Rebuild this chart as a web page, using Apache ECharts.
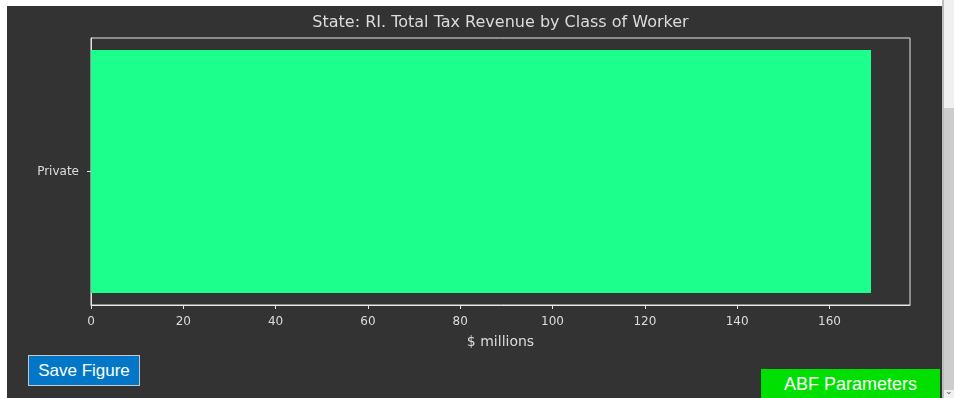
<!DOCTYPE html>
<html>
<head>
<meta charset="utf-8">
<script src="https://cdn.jsdelivr.net/npm/echarts@6/dist/echarts.min.js"></script>
<style>
  html, body { margin: 0; padding: 0; background: #ffffff; width: 954px; height: 398px; overflow: hidden; }
  #panel { position: absolute; left: 7px; top: 6px; width: 935px; height: 392px; background: #333333; }
  #chart { position: absolute; left: 0; top: 0; width: 935px; height: 392px; }
  .btn { position: absolute; font-family: "Liberation Sans", Arial, sans-serif; color: #ffffff; text-align: center; box-sizing: border-box; }
  #save { left: 21px; top: 349px; width: 112px; height: 31px; background: #0277c8; border: 1px solid #c8c8c8; font-size: 17px; line-height: 29px; }
  #abf { left: 754px; top: 363px; width: 179px; height: 30px; background: #00e000; font-size: 18px; line-height: 30px; }
  #sbline { position: absolute; left: 942px; top: 0; width: 2px; height: 398px; background: #bdbdbd; }
  #sbtrack { position: absolute; left: 944px; top: 0; width: 10px; height: 398px; background: #f0f0f0; }
  #sbthumb { position: absolute; left: 944px; top: 108px; width: 10px; height: 282px; background: #cdcdcd; }
  #sbarrow { position: absolute; left: 945px; top: 386px; font-size: 9px; color: #555; font-family: "DejaVu Sans", sans-serif; }
</style>
</head>
<body>
<div id="panel">
  <div id="chart"></div>
  <div id="save" class="btn">Save Figure</div>
  <div id="abf" class="btn">ABF Parameters</div>
</div>
<div id="sbline"></div>
<div id="sbtrack"></div>
<div id="sbthumb"></div>
<div id="sbarrow">&#8964;</div>
<script>
const titleText = "State: RI. Total Tax Revenue by Class of Worker";
const categories = ["Private"];
const revenue = [169];
const xAxisName = "$ millions";
const xMin = 0;
const xMax = 177.45;
const xInterval = 20;

const txt = "#dcdcdc";
const chart = echarts.init(document.getElementById('chart'));
chart.setOption({
  backgroundColor: 'transparent',
  animation: false,
  graphic: [{
    type: 'text',
    x: 493.5,
    y: 16.5,
    style: { text: titleText, fill: txt, font: '16px "DejaVu Sans"', textAlign: 'center', textVerticalAlign: 'middle' }
  }],
  grid: {
    left: 84, top: 32, width: 819, height: 267,
    show: true, borderColor: '#e6e6e6', borderWidth: 1, backgroundColor: 'transparent'
  },
  xAxis: {
    type: 'value', min: xMin, max: xMax, interval: xInterval,
    name: xAxisName, nameLocation: 'middle', nameGap: 30,
    nameTextStyle: { color: txt, fontSize: 14, fontFamily: 'DejaVu Sans' },
    axisLine: { show: true, lineStyle: { color: '#e6e6e6', width: 1 } },
    axisTick: { show: true, length: 4, lineStyle: { color: '#e6e6e6' } },
    axisLabel: { color: txt, fontSize: 12, fontFamily: 'DejaVu Sans', margin: 11, showMaxLabel: false },
    splitLine: { show: false }
  },
  yAxis: {
    type: 'category', data: categories,
    axisLine: { show: true, lineStyle: { color: '#e6e6e6', width: 1 } },
    axisTick: { show: true, length: 4, alignWithLabel: true, lineStyle: { color: '#e6e6e6' } },
    axisLabel: { color: txt, fontSize: 12, fontFamily: 'DejaVu Sans', margin: 12 },
    splitLine: { show: false }
  },
  series: [{
    type: 'bar', data: revenue, barWidth: 243,
    itemStyle: { color: '#1cff8d' }
  }]
});
</script>
</body>
</html>
